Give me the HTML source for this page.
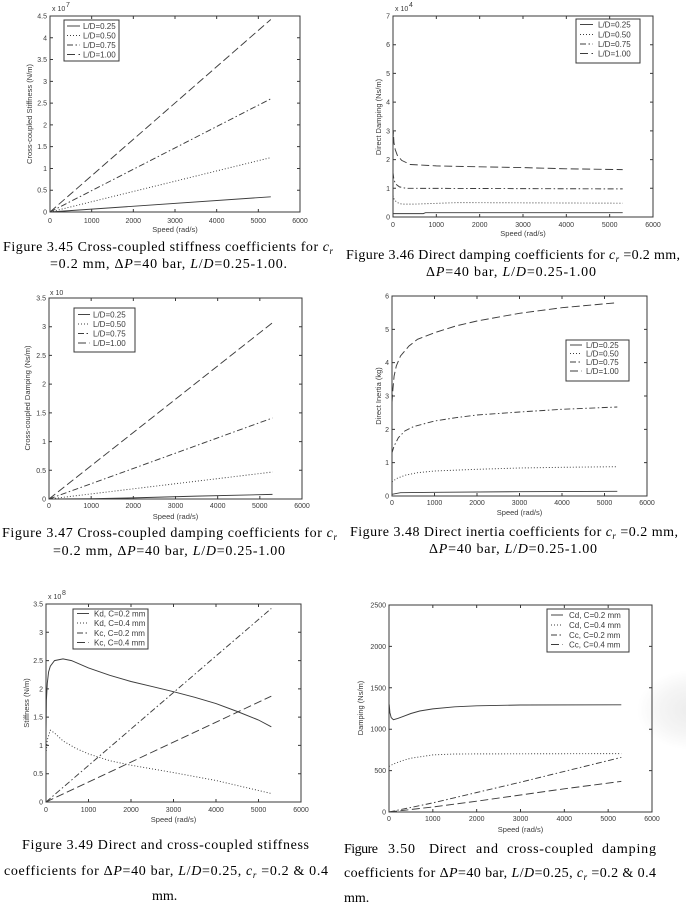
<!DOCTYPE html>
<html><head><meta charset="utf-8"><style>
body{margin:0;background:#fff}
svg{display:block}
.ax{fill:none;stroke:#383838;stroke-width:1}
.tk{fill:none;stroke:#383838;stroke-width:3}
.t{font-family:"Liberation Sans",Arial,sans-serif;font-size:7px;fill:#3a3a3a}
.r{text-anchor:end}
.m{text-anchor:middle}
.al{font-family:"Liberation Sans",Arial,sans-serif;font-size:7.5px;fill:#3a3a3a;text-anchor:middle}
.lg{font-family:"Liberation Sans",Arial,sans-serif;font-size:8px;fill:#3a3a3a}
.c{fill:none;stroke:#3c3c3c;stroke-width:0.95}
.d1{stroke-dasharray:1 2}
.d2{stroke-dasharray:6 2.5 1.5 2.5}
.d3{stroke-dasharray:8 3.5}
.lb{fill:#fff;stroke:#383838;stroke-width:1}
.cap{font-family:"Liberation Serif","Times New Roman",serif;font-size:14px;fill:#000}
.i{font-style:italic}
</style></head><body>
<svg width="686" height="909" viewBox="0 0 686 909" xmlns="http://www.w3.org/2000/svg">
<defs><radialGradient id="sm" cx="0.5" cy="0.5" r="0.5"><stop offset="0" stop-color="#ececec"/><stop offset="0.6" stop-color="#f5f5f5"/><stop offset="1" stop-color="#fff"/></radialGradient></defs>
<rect width="686" height="909" fill="#fff"/>
<ellipse cx="692" cy="710" rx="55" ry="40" fill="url(#sm)"/>

<!-- ================= PLOT 1 ================= -->
<rect class="ax" x="50" y="16" width="250" height="196"/>
<path class="tk" stroke-dasharray="1 40.667" d="M49.5 210.5H300.5"/>
<path class="tk" stroke-dasharray="1 40.667" d="M49.5 17.5H300.5"/>
<path class="tk" stroke-dasharray="1 20.778" d="M51.5 212.5V15.5"/>
<path class="tk" stroke-dasharray="1 20.778" d="M298.5 212.5V15.5"/>
<g class="t r">
<text x="47" y="214.5">0</text><text x="47" y="192.7">0.5</text><text x="47" y="170.9">1</text><text x="47" y="149.2">1.5</text><text x="47" y="127.4">2</text><text x="47" y="105.6">2.5</text><text x="47" y="83.8">3</text><text x="47" y="62.1">3.5</text><text x="47" y="40.3">4</text><text x="47" y="18.5">4.5</text>
</g>
<g class="t m">
<text x="50" y="223">0</text><text x="91.7" y="223">1000</text><text x="133.3" y="223">2000</text><text x="175" y="223">3000</text><text x="216.7" y="223">4000</text><text x="258.3" y="223">5000</text><text x="300" y="223">6000</text>
</g>
<text class="al" x="175" y="232">Speed (rad/s)</text>
<text class="al" transform="translate(32,114) rotate(-90)">Cross-coupled Stiffness (N/m)</text>
<text class="t" x="52" y="11">x 10</text><text class="t" x="66" y="7" font-size="5.5">7</text>
<path class="c" d="M50 212L270.8 196.8"/>
<path class="c d1" d="M50 212L270.8 157.6"/>
<path class="c d2" d="M50 212L270.8 98.8"/>
<path class="c d3" d="M50 212L270.8 19.5"/>
<rect class="lb" x="64" y="20" width="55" height="41"/>
<path class="c" d="M67 26H80"/><path class="c d1" d="M67 35.5H80"/><path class="c d2" d="M67 45H80"/><path class="c d3" d="M67 54.5H80"/>
<g class="lg"><text x="83" y="28.8">L/D=0.25</text><text x="83" y="38.3">L/D=0.50</text><text x="83" y="47.8">L/D=0.75</text><text x="83" y="57.3">L/D=1.00</text></g>

<!-- ================= PLOT 2 ================= -->
<rect class="ax" x="393" y="16" width="260" height="201"/>
<path class="tk" stroke-dasharray="1 42.333" d="M392.5 215.5H653.5"/>
<path class="tk" stroke-dasharray="1 42.333" d="M392.5 17.5H653.5"/>
<path class="tk" stroke-dasharray="1 27.714" d="M394.5 217.5V15.5"/>
<path class="tk" stroke-dasharray="1 27.714" d="M651.5 217.5V15.5"/>
<g class="t r">
<text x="390" y="219.5">0</text><text x="390" y="190.8">1</text><text x="390" y="162.1">2</text><text x="390" y="133.4">3</text><text x="390" y="104.6">4</text><text x="390" y="75.9">5</text><text x="390" y="47.2">6</text><text x="390" y="18.5">7</text>
</g>
<g class="t m">
<text x="393" y="227">0</text><text x="436.3" y="227">1000</text><text x="479.7" y="227">2000</text><text x="523" y="227">3000</text><text x="566.3" y="227">4000</text><text x="609.7" y="227">5000</text><text x="653" y="227">6000</text>
</g>
<text class="al" x="523" y="236">Speed (rad/s)</text>
<text class="al" transform="translate(381,117) rotate(-90)">Direct Damping (Ns/m)</text>
<text class="t" x="395" y="11">x 10</text><text class="t" x="409" y="7" font-size="5.5">4</text>
<path class="c" d="M393 213.6L423.3 213.6L425.5 212.7L622.7 212.7"/>
<path class="c d1" d="M393 195.5L394.3 199.8L397.3 202.6L401.7 204.1L414.7 204.1L458 202.6L622.7 203.2"/>
<path class="c d2" d="M393 172.5L393.9 179.7L395.6 184L399.5 186.9L406 188.3L622.7 188.9"/>
<path class="c d3" d="M393 148L393.3 131L393.9 142.3L395.2 149.5L397.3 155.3L401.7 160.4L410.3 164.5L436.3 165.9L479.7 166.8L523 167.6L566.3 168.8L622.7 169.6"/>
<rect class="lb" x="576" y="19" width="64" height="44"/>
<path class="c" d="M580 24.5H593"/><path class="c d1" d="M580 34.5H593"/><path class="c d2" d="M580 44H593"/><path class="c d3" d="M580 53.5H593"/>
<g class="lg"><text x="598" y="27.3">L/D=0.25</text><text x="598" y="37.3">L/D=0.50</text><text x="598" y="46.8">L/D=0.75</text><text x="598" y="56.3">L/D=1.00</text></g>

<!-- ================= PLOT 3 ================= -->
<rect class="ax" x="49" y="298" width="253" height="201"/>
<path class="tk" stroke-dasharray="1 41.167" d="M48.5 497.5H302.5"/>
<path class="tk" stroke-dasharray="1 41.167" d="M48.5 299.5H302.5"/>
<path class="tk" stroke-dasharray="1 27.714" d="M50.5 499.5V297.5"/>
<path class="tk" stroke-dasharray="1 27.714" d="M300.5 499.5V297.5"/>
<g class="t r">
<text x="46" y="501.5">0</text><text x="46" y="472.8">0.5</text><text x="46" y="444.1">1</text><text x="46" y="415.4">1.5</text><text x="46" y="386.6">2</text><text x="46" y="357.9">2.5</text><text x="46" y="329.2">3</text><text x="46" y="300.5">3.5</text>
</g>
<g class="t m">
<text x="49" y="508">0</text><text x="91.2" y="508">1000</text><text x="133.3" y="508">2000</text><text x="175.5" y="508">3000</text><text x="217.7" y="508">4000</text><text x="259.8" y="508">5000</text><text x="302" y="508">6000</text>
</g>
<text class="al" x="175.5" y="519">Speed (rad/s)</text>
<text class="al" transform="translate(30,398) rotate(-90)">Cross-coupled Damping (Ns/m)</text>
<text class="t" x="50" y="295">x 10</text>
<path class="c" d="M49 499L91.2 498.7L133.3 497.9L196.6 496.1L272.5 494.4"/>
<path class="c d1" d="M49 499L272.5 472"/>
<path class="c d2" d="M49 499L272.5 418"/>
<path class="c d3" d="M49 499L272.5 322.7"/>
<rect class="lb" x="74" y="308" width="61" height="44"/>
<path class="c" d="M78 314.5H90"/><path class="c d1" d="M78 324H90"/><path class="c d2" d="M78 333.5H90"/><path class="c d3" d="M78 343H90"/>
<g class="lg"><text x="93" y="317.3">L/D=0.25</text><text x="93" y="326.8">L/D=0.50</text><text x="93" y="336.3">L/D=0.75</text><text x="93" y="345.8">L/D=1.00</text></g>

<!-- ================= PLOT 4 ================= -->
<rect class="ax" x="392" y="296" width="255" height="200"/>
<path class="tk" stroke-dasharray="1 41.5" d="M391.5 494.5H647.5"/>
<path class="tk" stroke-dasharray="1 41.5" d="M391.5 297.5H647.5"/>
<path class="tk" stroke-dasharray="1 32.333" d="M393.5 496.5V295.5"/>
<path class="tk" stroke-dasharray="1 32.333" d="M645.5 496.5V295.5"/>
<g class="t r">
<text x="389" y="498.5">0</text><text x="389" y="465.2">1</text><text x="389" y="431.8">2</text><text x="389" y="398.5">3</text><text x="389" y="365.2">4</text><text x="389" y="331.8">5</text><text x="389" y="298.5">6</text>
</g>
<g class="t m">
<text x="392" y="505">0</text><text x="434.5" y="505">1000</text><text x="477" y="505">2000</text><text x="519.5" y="505">3000</text><text x="562" y="505">4000</text><text x="604.5" y="505">5000</text><text x="647" y="505">6000</text>
</g>
<text class="al" x="519.5" y="515">Speed (rad/s)</text>
<text class="al" transform="translate(381,396) rotate(-90)">Direct Inertia (kg)</text>
<path class="c" d="M392 494.3L400.5 492.7L434.5 492.3L519.5 491.7L617.3 491.3"/>
<path class="c d1" d="M392 482L396.3 478.7L404.8 475.3L417.5 472.7L434.5 471L477 469.3L519.5 468L562 467.3L617.3 466.7"/>
<path class="c d2" d="M392 452.7L394.1 446L398.4 437.7L404.8 431L413.3 426.7L434.5 421L455.8 417.7L477 415L519.5 412L562 409.3L617.3 407"/>
<path class="c d3" d="M392 402.7L392.9 389.3L394.1 376L396.3 366L400.5 356L409 346L417.5 339.3L434.5 332.7L455.8 326L477 321L519.5 313.3L562 307.7L617.3 302.7"/>
<rect class="lb" x="566" y="340" width="63" height="41"/>
<path class="c" d="M570 345H582"/><path class="c d1" d="M570 353.5H582"/><path class="c d2" d="M570 362H582"/><path class="c d3" d="M570 371H582"/>
<g class="lg"><text x="586" y="347.8">L/D=0.25</text><text x="586" y="356.3">L/D=0.50</text><text x="586" y="364.8">L/D=0.75</text><text x="586" y="373.8">L/D=1.00</text></g>

<!-- ================= PLOT 5 ================= -->
<rect class="ax" x="46" y="604" width="255" height="198"/>
<path class="tk" stroke-dasharray="1 41.5" d="M45.5 800.5H301.5"/>
<path class="tk" stroke-dasharray="1 41.5" d="M45.5 605.5H301.5"/>
<path class="tk" stroke-dasharray="1 27.286" d="M47.5 802.5V603.5"/>
<path class="tk" stroke-dasharray="1 27.286" d="M299.5 802.5V603.5"/>
<g class="t r">
<text x="43" y="804.5">0</text><text x="43" y="776.2">0.5</text><text x="43" y="747.9">1</text><text x="43" y="719.6">1.5</text><text x="43" y="691.4">2</text><text x="43" y="663.1">2.5</text><text x="43" y="634.8">3</text><text x="43" y="606.5">3.5</text>
</g>
<g class="t m">
<text x="46" y="812">0</text><text x="88.5" y="812">1000</text><text x="131" y="812">2000</text><text x="173.5" y="812">3000</text><text x="216" y="812">4000</text><text x="258.5" y="812">5000</text><text x="301" y="812">6000</text>
</g>
<text class="al" x="173.5" y="822">Speed (rad/s)</text>
<text class="al" transform="translate(29,703) rotate(-90)">Stiffness (N/m)</text>
<text class="t" x="48" y="599">x 10</text><text class="t" x="62" y="595" font-size="5.5">8</text>
<path class="c" d="M46 734.1L46.4 700.2L47.3 683.2L48.6 671.9L50.3 666.2L54.5 660.6L63 658.9L71.5 660.6L88.5 667.9L109.8 675.3L131 681.5L152.3 686.6L173.5 691.7L194.8 697.3L216 703.6L237.3 711.5L258.5 720L271.3 726.8"/>
<path class="c d1" d="M46 754L47.3 739.8L50.3 730.2L54.5 733L63 740.9L75.8 748.3L88.5 753.9L109.8 760.7L131 765.2L173.5 772.6L216 780.5L271.3 793.5"/>
<path class="c d2" d="M46 802L271.3 608.5"/>
<path class="c d3" d="M46 802L271.3 696.2"/>
<rect class="lb" x="73" y="609" width="75" height="40"/>
<path class="c" d="M77 613.5H89"/><path class="c d1" d="M77 623H89"/><path class="c d2" d="M77 633H89"/><path class="c d3" d="M77 642.5H89"/>
<g class="lg"><text x="94" y="616.3">Kd, C=0.2 mm</text><text x="94" y="625.8">Kd, C=0.4 mm</text><text x="94" y="635.8">Kc, C=0.2 mm</text><text x="94" y="645.3">Kc, C=0.4 mm</text></g>

<!-- ================= PLOT 6 ================= -->
<rect class="ax" x="389" y="605" width="263" height="207"/>
<path class="tk" stroke-dasharray="1 42.833" d="M388.5 810.5H652.5"/>
<path class="tk" stroke-dasharray="1 42.833" d="M388.5 606.5H652.5"/>
<path class="tk" stroke-dasharray="1 40.4" d="M390.5 812.5V604.5"/>
<path class="tk" stroke-dasharray="1 40.4" d="M650.5 812.5V604.5"/>
<g class="t r">
<text x="386" y="814.5">0</text><text x="386" y="773.1">500</text><text x="386" y="731.7">1000</text><text x="386" y="690.3">1500</text><text x="386" y="648.9">2000</text><text x="386" y="607.5">2500</text>
</g>
<g class="t m">
<text x="389" y="821">0</text><text x="432.8" y="821">1000</text><text x="476.7" y="821">2000</text><text x="520.5" y="821">3000</text><text x="564.3" y="821">4000</text><text x="608.2" y="821">5000</text><text x="652" y="821">6000</text>
</g>
<text class="al" x="520.5" y="832">Speed (rad/s)</text>
<text class="al" transform="translate(363,708) rotate(-90)">Damping (Ns/m)</text>
<path class="c" d="M389 712.6L389.2 704.4L389.9 712.6L391.2 717.6L393.4 719.7L397.8 718.4L402.2 716.8L410.9 713.5L419.7 711L432.8 708.9L454.8 706.8L476.7 705.8L520.5 705L621.3 704.8"/>
<path class="c d1" d="M389 766.5L393.4 764L402.2 760.7L410.9 758.2L432.8 754.9L454.8 754L476.7 753.9L621.3 753.6"/>
<path class="c d2" d="M389 812L432.8 802.9L476.7 792.5L520.5 782.2L564.3 771.4L621.3 757.4"/>
<path class="c d3" d="M389 812L432.8 807L476.7 801.2L520.5 795L564.3 788.8L621.3 781.4"/>
<rect class="lb" x="547" y="609" width="82" height="43"/>
<path class="c" d="M551 615H563"/><path class="c d1" d="M551 625H563"/><path class="c d2" d="M551 635H563"/><path class="c d3" d="M551 644.5H563"/>
<g class="lg"><text x="569" y="617.8">Cd, C=0.2 mm</text><text x="569" y="627.8">Cd, C=0.4 mm</text><text x="569" y="637.8">Cc, C=0.2 mm</text><text x="569" y="647.3">Cc, C=0.4 mm</text></g>

<!-- ================= CAPTIONS ================= -->
<text class="cap" x="3" y="251" textLength="330">Figure 3.45 Cross-coupled stiffness coefficients for <tspan class="i">c</tspan><tspan class="i" font-size="9" dy="3">r</tspan></text>
<text class="cap" x="50" y="268" textLength="237">=0.2 mm, Δ<tspan class="i">P</tspan>=40 bar, <tspan class="i">L</tspan>/<tspan class="i">D</tspan>=0.25-1.00.</text>

<text class="cap" x="346" y="259" textLength="334">Figure 3.46 Direct damping coefficients for <tspan class="i">c</tspan><tspan class="i" font-size="9" dy="3">r</tspan><tspan dy="-3"> =0.2 mm,</tspan></text>
<text class="cap" x="426" y="276" textLength="170">Δ<tspan class="i">P</tspan>=40 bar, <tspan class="i">L</tspan>/<tspan class="i">D</tspan>=0.25-1.00</text>

<text class="cap" x="2" y="537" textLength="335">Figure 3.47 Cross-coupled damping coefficients for <tspan class="i">c</tspan><tspan class="i" font-size="9" dy="3">r</tspan></text>
<text class="cap" x="53" y="555" textLength="232">=0.2 mm, Δ<tspan class="i">P</tspan>=40 bar, <tspan class="i">L</tspan>/<tspan class="i">D</tspan>=0.25-1.00</text>

<text class="cap" x="350" y="536" textLength="328">Figure 3.48 Direct inertia coefficients for <tspan class="i">c</tspan><tspan class="i" font-size="9" dy="3">r</tspan><tspan dy="-3"> =0.2 mm,</tspan></text>
<text class="cap" x="429" y="553" textLength="168">Δ<tspan class="i">P</tspan>=40 bar, <tspan class="i">L</tspan>/<tspan class="i">D</tspan>=0.25-1.00</text>

<text class="cap" x="22" y="849" textLength="287">Figure 3.49 Direct and cross-coupled stiffness</text>
<text class="cap" x="4" y="875" textLength="324">coefficients for Δ<tspan class="i">P</tspan>=40 bar, <tspan class="i">L</tspan>/<tspan class="i">D</tspan>=0.25, <tspan class="i">c</tspan><tspan class="i" font-size="9" dy="3">r</tspan><tspan dy="-3"> =0.2 &amp; 0.4</tspan></text>
<text class="cap" x="152" y="900">mm.</text>

<text class="cap" x="344" y="853" textLength="34">Figure</text>
<text class="cap" x="388" y="853" textLength="27">3.50</text>
<text class="cap" x="429" y="853" textLength="37">Direct</text>
<text class="cap" x="476" y="853" textLength="22">and</text>
<text class="cap" x="507" y="853" textLength="86">cross-coupled</text>
<text class="cap" x="602" y="853" textLength="54">damping</text>
<text class="cap" x="344" y="877" textLength="312">coefficients for Δ<tspan class="i">P</tspan>=40 bar, <tspan class="i">L</tspan>/<tspan class="i">D</tspan>=0.25, <tspan class="i">c</tspan><tspan class="i" font-size="9" dy="3">r</tspan><tspan dy="-3"> =0.2 &amp; 0.4</tspan></text>
<text class="cap" x="344" y="902">mm.</text>
</svg>
</body></html>
